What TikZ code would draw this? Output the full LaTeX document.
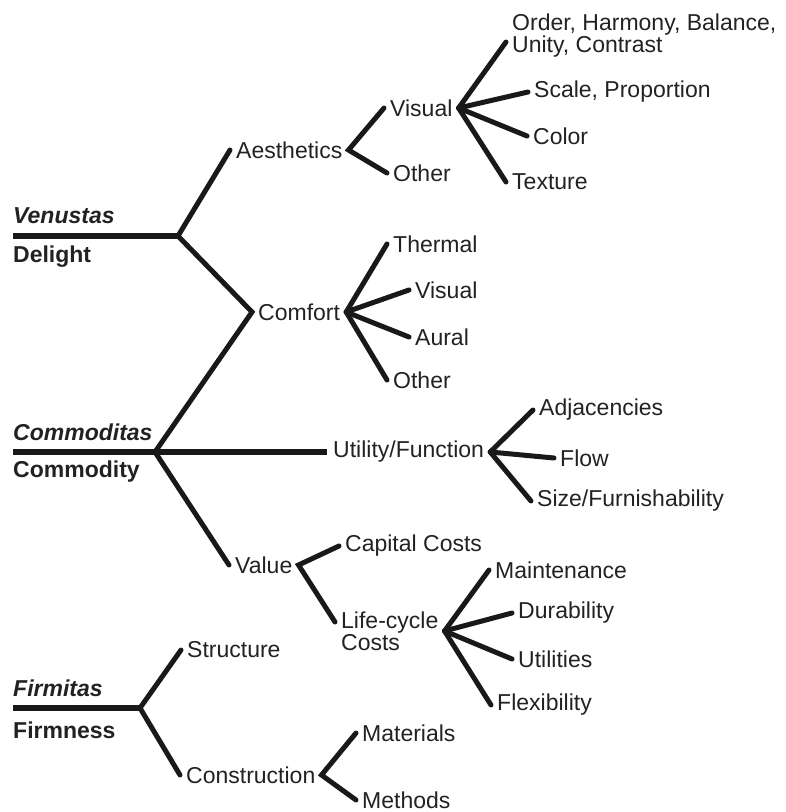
\documentclass[tikz,border=0pt]{standalone}
\usepackage{fontspec}
\setmainfont{Liberation Sans}
\definecolor{ink}{HTML}{222222}
\tikzset{every picture/.append style={x=1pt,y=-1pt}}
\tikzset{
  lbl/.style={anchor=west,inner xsep=6pt,inner ysep=2pt,text=ink,font=\fontsize{23}{22}\selectfont},
  twoline/.style={lbl,align=left},
  root/.style={lbl,font=\fontsize{23}{22}\selectfont\bfseries},
  latin/.style={lbl,font=\fontsize{23}{22}\selectfont\bfseries\itshape},
  branch/.style={line width=5pt,line cap=round,black!90},
  trunk/.style={line width=6pt,black!90}
}

\begin{document}
\begin{tikzpicture}
  \useasboundingbox (0,0) rectangle (786,812);
  \coordinate (v0) at (13,236);
  \coordinate (vb) at (178,236);
  \coordinate (c0) at (13,452);
  \coordinate (cb) at (155,452);
  \coordinate (f0) at (13,708);
  \coordinate (fb) at (140,708);
  \node[latin] (ven) at (7,216){Venustas};
  \node[root] (del) at (7,257){Delight};
  \node[latin] (cmt) at (7,432){Commoditas};
  \node[root] (cmd) at (7,472){Commodity};
  \node[latin] (fir) at (7,688){Firmitas};
  \node[root] (frm) at (7,730){Firmness};
  \node[lbl] (aes) at (230,150){Aesthetics};
  \node[lbl] (vis) at (384,108){Visual};
  \node[lbl] (oth) at (387,173){Other};
  \node[twoline] (ord) at (506,36){Order, Harmony, Balance,\\Unity, Contrast};
  \node[lbl] (sca) at (528,92){Scale, Proportion};
  \node[lbl] (col) at (527,136){Color};
  \node[lbl] (tex) at (506,182){Texture};
  \node[lbl] (cft) at (252,312){Comfort};
  \node[lbl] (thm) at (387,244){Thermal};
  \node[lbl] (cvis) at (409,290){Visual};
  \node[lbl] (aur) at (409,337){Aural};
  \node[lbl] (coth) at (387,380){Other};
  \node[lbl] (uti) at (327,452){Utility/Function};
  \node[lbl] (adj) at (533,410){Adjacencies};
  \node[lbl] (flo) at (554,458){Flow};
  \node[lbl] (siz) at (531,501){Size/Furnishability};
  \node[lbl] (val) at (229,565){Value};
  \node[lbl] (cap) at (339,546){Capital Costs};
  \node[twoline] (lcc) at (335,631){Life-cycle\\Costs};
  \node[lbl] (mnt) at (489,570){Maintenance};
  \node[lbl] (dur) at (512,613){Durability};
  \node[lbl] (utl) at (512,659){Utilities};
  \node[lbl] (flx) at (491,705){Flexibility};
  \node[lbl] (str) at (181,650){Structure};
  \node[lbl] (con) at (180,775){Construction};
  \node[lbl] (mat) at (356,733){Materials};
  \node[lbl] (met) at (356,800){Methods};
  \draw[trunk] (v0) -- (vb);
  \draw[trunk] (c0) -- (uti.west);
  \draw[trunk] (f0) -- (fb);
  \draw[branch] (aes.west) -- (vb) -- (cft.west) -- (cb) -- (val.west);
  \draw[branch] (str.west) -- (fb) -- (con.west);
  \draw[branch] (vis.west) -- (aes.east) -- (oth.west);
  \foreach \t in {sca,col,tex}
    \draw[branch] (vis.east) -- (\t.west);
  \draw[branch] (vis.east) -- ([yshift=-6pt]ord.west);
  \foreach \t in {thm,cvis,aur,coth}
    \draw[branch] (cft.east) -- (\t.west);
  \foreach \t in {adj,flo,siz}
    \draw[branch] (uti.east) -- (\t.west);
  \draw[branch] (cap.west) -- (val.east) -- ([yshift=9pt]lcc.west);
  \foreach \t in {mnt,dur,utl,flx}
    \draw[branch] (lcc.east) -- (\t.west);
  \draw[branch] (mat.west) -- (con.east) -- (met.west);
\end{tikzpicture}
\end{document}
